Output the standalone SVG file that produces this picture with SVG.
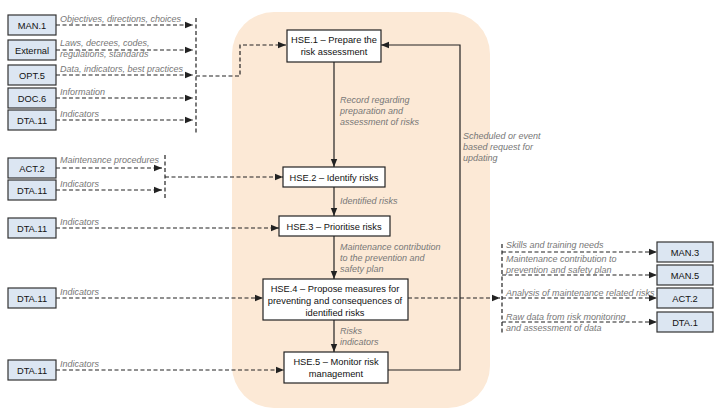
<svg xmlns="http://www.w3.org/2000/svg" width="720" height="419" viewBox="0 0 720 419">
<style>
.b{fill:#dce6f2;stroke:#333;stroke-width:1.2}
.p{fill:#fff;stroke:#222;stroke-width:1.2}
.t{font-family:"Liberation Sans",Arial,sans-serif;font-size:9.3px;fill:#111;text-anchor:middle}
.l{font-family:"Liberation Sans",Arial,sans-serif;font-size:9px;fill:#777;font-style:italic}
.d{fill:none;stroke:#222;stroke-width:1.2;stroke-dasharray:4,2.5}
.s{fill:none;stroke:#222;stroke-width:1.2}
</style>
<defs><marker id="a" viewBox="0 0 10 10" refX="10" refY="5" markerWidth="7" markerHeight="7" orient="auto"><path d="M0,1L10,5L0,9z" fill="#222"/></marker></defs>
<rect x="232" y="12" width="258" height="396" rx="42" fill="#fce9d6"/>
<g id="connectors">
<path class="d" d="M56,25H193" marker-end="url(#a)"/>
<path class="d" d="M56,50H193" marker-end="url(#a)"/>
<path class="d" d="M56,75H193" marker-end="url(#a)"/>
<path class="d" d="M56,98H193" marker-end="url(#a)"/>
<path class="d" d="M56,120H193" marker-end="url(#a)"/>
<path class="d" d="M196,18V133"/>
<path class="d" d="M196,76H240V45H286" marker-end="url(#a)"/>
<path class="d" d="M56,168H162" marker-end="url(#a)"/>
<path class="d" d="M56,190H162" marker-end="url(#a)"/>
<path class="d" d="M165,155V200"/>
<path class="d" d="M165,177H283" marker-end="url(#a)"/>
<path class="d" d="M56,228H279" marker-end="url(#a)"/>
<path class="d" d="M56,298H263" marker-end="url(#a)"/>
<path class="d" d="M56,370H284" marker-end="url(#a)"/>
<path class="d" d="M408,298H500" marker-end="url(#a)"/>
<path class="d" d="M502,244V334"/>
<path class="d" d="M502,252H657" marker-end="url(#a)"/>
<path class="d" d="M502,275H657" marker-end="url(#a)"/>
<path class="d" d="M502,298H657" marker-end="url(#a)"/>
<path class="d" d="M502,322H657" marker-end="url(#a)"/>
<path class="s" d="M334,62V167" marker-end="url(#a)"/>
<path class="s" d="M334,187V216" marker-end="url(#a)"/>
<path class="s" d="M334,236V279" marker-end="url(#a)"/>
<path class="s" d="M334,320V352" marker-end="url(#a)"/>
<path class="s" d="M388,370H460V45H381" marker-end="url(#a)"/>
</g>
<g id="labels">
<text class="l" x="60" y="22">Objectives, directions, choices</text>
<text class="l" x="60" y="46">Laws, decrees, codes,</text>
<text class="l" x="60" y="57">regulations, standards</text>
<text class="l" x="60" y="72">Data, indicators, best practices</text>
<text class="l" x="60" y="95">Information</text>
<text class="l" x="60" y="117">Indicators</text>
<text class="l" x="60" y="163">Maintenance procedures</text>
<text class="l" x="60" y="187">Indicators</text>
<text class="l" x="60" y="225">Indicators</text>
<text class="l" x="60" y="295">Indicators</text>
<text class="l" x="60" y="367">Indicators</text>
<text class="l" x="340" y="103">Record regarding</text>
<text class="l" x="340" y="114">preparation and</text>
<text class="l" x="340" y="125">assessment of risks</text>
<text class="l" x="340" y="204">Identified risks</text>
<text class="l" x="340" y="250">Maintenance contribution</text>
<text class="l" x="340" y="261">to the  prevention and</text>
<text class="l" x="340" y="272">safety plan</text>
<text class="l" x="340" y="334">Risks</text>
<text class="l" x="340" y="345">indicators</text>
<text class="l" x="463" y="139">Scheduled or event</text>
<text class="l" x="463" y="150">based request for</text>
<text class="l" x="463" y="161">updating</text>
<text class="l" x="506" y="248">Skills and training needs</text>
<text class="l" x="506" y="262">Maintenance contribution to</text>
<text class="l" x="506" y="273">prevention and safety plan</text>
<text class="l" x="506" y="296">Analysis of maintenance related risks</text>
<text class="l" x="506" y="320">Raw data from risk monitoring</text>
<text class="l" x="506" y="331">and assessment of data</text>
</g>
<g id="MAN1"><rect class="b" x="8" y="15" width="48" height="20"/><text class="t" x="32" y="29">MAN.1</text></g>
<g id="External"><rect class="b" x="8" y="40" width="48" height="20"/><text class="t" x="32" y="54">External</text></g>
<g id="OPT5"><rect class="b" x="8" y="65" width="48" height="20"/><text class="t" x="32" y="79">OPT.5</text></g>
<g id="DOC6"><rect class="b" x="8" y="88" width="48" height="20"/><text class="t" x="32" y="102">DOC.6</text></g>
<g id="DTA11a"><rect class="b" x="8" y="110" width="48" height="20"/><text class="t" x="32" y="124">DTA.11</text></g>
<g id="ACT2a"><rect class="b" x="8" y="158" width="48" height="20"/><text class="t" x="32" y="172">ACT.2</text></g>
<g id="DTA11b"><rect class="b" x="8" y="180" width="48" height="20"/><text class="t" x="32" y="194">DTA.11</text></g>
<g id="DTA11c"><rect class="b" x="8" y="218" width="48" height="20"/><text class="t" x="32" y="232">DTA.11</text></g>
<g id="DTA11d"><rect class="b" x="8" y="288" width="48" height="20"/><text class="t" x="32" y="302">DTA.11</text></g>
<g id="DTA11e"><rect class="b" x="8" y="360" width="48" height="20"/><text class="t" x="32" y="374">DTA.11</text></g>
<g id="MAN3"><rect class="b" x="657" y="242" width="56" height="20"/><text class="t" x="685" y="256">MAN.3</text></g>
<g id="MAN5"><rect class="b" x="657" y="265" width="56" height="20"/><text class="t" x="685" y="279">MAN.5</text></g>
<g id="ACT2b"><rect class="b" x="657" y="288" width="56" height="20"/><text class="t" x="685" y="302">ACT.2</text></g>
<g id="DTA1"><rect class="b" x="657" y="312" width="56" height="20"/><text class="t" x="685" y="326">DTA.1</text></g>
<g id="HSE1"><rect class="p" x="287" y="30" width="94" height="32"/><text class="t" x="334" y="43">HSE.1 – Prepare the</text><text class="t" x="334" y="55">risk assessment</text></g>
<g id="HSE2"><rect class="p" x="283" y="167" width="102" height="20"/><text class="t" x="334" y="181">HSE.2 – Identify risks</text></g>
<g id="HSE3"><rect class="p" x="279" y="216" width="111" height="20"/><text class="t" x="334" y="230">HSE.3 – Prioritise risks</text></g>
<g id="HSE4"><rect class="p" x="263" y="279" width="145" height="41"/><text class="t" x="335" y="292">HSE.4 – Propose measures for</text><text class="t" x="335" y="304">preventing and consequences of</text><text class="t" x="335" y="316">identified risks</text></g>
<g id="HSE5"><rect class="p" x="284" y="352" width="104" height="31"/><text class="t" x="336" y="365">HSE.5 – Monitor risk</text><text class="t" x="336" y="377">management</text></g>
</svg>
